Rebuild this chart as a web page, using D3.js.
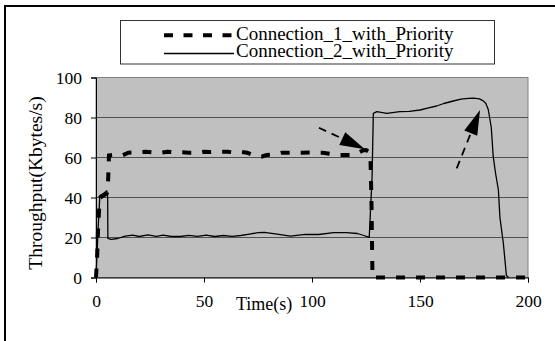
<!DOCTYPE html>
<html>
<head>
<meta charset="utf-8">
<script src="https://cdn.jsdelivr.net/npm/d3@7"></script>
<style>
  html, body { margin: 0; padding: 0; background: #fff; }
  svg { display: block; }
  text { font-family: "Liberation Serif", "Times New Roman", serif; fill: #000; }
</style>
</head>
<body>
<svg id="chart" width="555" height="341"></svg>
<script>
// Series names
const seriesNames = ["Connection_1_with_Priority", "Connection_2_with_Priority"];

// Connection 1 (dashed): time (s) and throughput (Kbytes/s)
const conn1Time = [0, 0.5, 1, 1.5, 2, 5, 5.5, 6, 8, 12, 15, 19, 23, 27, 30, 33, 36, 40, 43, 47, 50, 53, 57, 61, 64, 67, 70, 72, 74, 77, 79, 82, 86, 90, 95, 100, 105, 110, 113, 117, 120, 123.5, 125, 127, 127.5, 128, 135, 150, 170, 190, 200];
const conn1Thr  = [0, 10, 25, 35, 40, 42, 45, 61, 61.3, 61, 62.4, 62.6, 62.9, 62.4, 62.4, 62.9, 62.7, 62.6, 62.4, 62.4, 62.9, 62.7, 62.9, 62.9, 62.5, 62.9, 62.4, 61.5, 60.5, 60.5, 61.3, 61.5, 62.4, 62.4, 62.4, 62.5, 62.4, 61.6, 61.3, 61.3, 61.5, 63.5, 63.7, 62.5, 40, 0, 0, 0, 0, 0, 0];

// Connection 2 (solid): time (s) and throughput (Kbytes/s)
const conn2Time = [0, 1, 1.8, 3.4, 5, 5.4, 5.5, 7, 10, 13.5, 17, 20, 24, 28, 31, 35, 39, 43, 47, 51, 55, 59, 63, 67, 71, 75, 78, 83, 90, 97, 103, 110, 116, 121, 124, 126.5, 127.8, 128.4, 130, 134.6, 140.7, 145, 150, 154, 157.7, 161, 165.4, 169, 172.4, 175, 177.5, 179.3, 180.5, 181.6, 183, 183.9, 185, 186.3, 187, 188.6, 190, 191];
const conn2Thr  = [0, 25, 41, 42, 43.4, 40, 19.6, 19.1, 19.5, 20.7, 21.2, 20.5, 21.3, 20.6, 21.2, 20.5, 20.5, 21.1, 20.6, 21.2, 20.5, 21, 20.6, 21, 21.7, 22.4, 22.6, 21.8, 20.7, 21.6, 21.5, 22.4, 22.4, 22, 21, 20.1, 50, 82.1, 82.9, 82.1, 82.9, 83.1, 83.75, 84.8, 85.75, 87, 88.25, 89.2, 89.6, 89.7, 89.3, 88.3, 87, 84, 75, 60.4, 52, 43.75, 30, 17, 1, 0];

// Axis ticks
const xTicks = [0, 50, 100, 150, 200];
const yTicks = [0, 20, 40, 60, 80, 100];
const gridValues = [20, 40, 60, 80];

// Annotation arrows: tail and tip in (time, throughput)
const arrowTails = [[103.2, 74.9], [167, 54.6]];
const arrowTips  = [[124.5, 64.1], [177.8, 83.75]];

const svg = d3.select("#chart");
const plot = { left: 96, right: 528, top: 77.5, bottom: 277.5 };

const x = d3.scaleLinear().domain([0, 200]).range([plot.left, plot.right]);
const y = d3.scaleLinear().domain([0, 100]).range([plot.bottom, plot.top]);

// Page frame (top and left edges)
svg.append("path")
  .attr("d", "M5,341 L5,6 L555,6")
  .attr("fill", "none").attr("stroke", "#000").attr("stroke-width", 2);

// Plot background
svg.append("rect")
  .attr("x", plot.left).attr("y", plot.top)
  .attr("width", plot.right - plot.left).attr("height", plot.bottom - plot.top)
  .attr("fill", "#c0c0c0").attr("stroke", "#808080").attr("stroke-width", 1);

// Horizontal gridlines
svg.append("g").selectAll("line").data(gridValues).join("line")
  .attr("x1", plot.left).attr("x2", plot.right)
  .attr("y1", d => y(d)).attr("y2", d => y(d))
  .attr("stroke", "#505050").attr("stroke-width", 1);

// Axes
const xAxis = svg.append("g")
  .attr("transform", `translate(0,${plot.bottom})`)
  .call(d3.axisBottom(x).tickValues(xTicks).tickSizeOuter(0).tickSize(5).tickPadding(12));
const yAxis = svg.append("g")
  .attr("transform", `translate(${plot.left},0)`)
  .call(d3.axisLeft(y).tickValues(yTicks).tickSizeOuter(0).tickSize(5).tickPadding(9));

[xAxis, yAxis].forEach(g => {
  g.select(".domain").attr("stroke", "#000");
  g.selectAll(".tick line").attr("stroke", "#000");
  g.selectAll("text")
    .attr("font-family", "'Liberation Serif', 'Times New Roman', serif")
    .attr("font-size", 17.5).attr("fill", "#000");
});

// Series lines
const line = d3.line().x(d => x(d[0])).y(d => y(d[1]));
const conn1 = conn1Time.map((t, i) => [t, conn1Thr[i]]);
const conn2 = conn2Time.map((t, i) => [t, conn2Thr[i]]);

svg.append("path").datum(conn2)
  .attr("d", line)
  .attr("fill", "none").attr("stroke", "#000").attr("stroke-width", 1.3)
  .attr("stroke-linejoin", "round");

svg.append("path").datum(conn1)
  .attr("d", line)
  .attr("fill", "none").attr("stroke", "#000").attr("stroke-width", 4)
  .attr("stroke-dasharray", "9,11");

// Annotation arrows: dashed shaft with filled head
arrowTails.forEach((tail, i) => {
  const tip = arrowTips[i];
  const x0 = x(tail[0]), y0 = y(tail[1]);
  const x1 = x(tip[0]), y1 = y(tip[1]);
  const dx = x1 - x0, dy = y1 - y0;
  const len = Math.hypot(dx, dy);
  const ux = dx / len, uy = dy / len;
  const headLen = 25, headHalf = 7;
  const bx = x1 - ux * headLen, by = y1 - uy * headLen;
  svg.append("line")
    .attr("x1", x0).attr("y1", y0).attr("x2", bx).attr("y2", by)
    .attr("stroke", "#000").attr("stroke-width", 1.8).attr("stroke-dasharray", "8,6");
  svg.append("path")
    .attr("d", `M${x1},${y1} L${bx - uy * headHalf},${by + ux * headHalf} L${bx + uy * headHalf},${by - ux * headHalf} Z`)
    .attr("fill", "#000");
});

// Axis titles
svg.append("text")
  .attr("x", 236).attr("y", 310)
  .attr("font-size", 18)
  .text("Time(s)");

svg.append("text")
  .attr("transform", "translate(42,183) rotate(-90)")
  .attr("text-anchor", "middle")
  .attr("font-size", 19.5)
  .text("Throughput(Kbytes/s)");

// Legend
const legend = svg.append("g");
legend.append("rect")
  .attr("x", 120.5).attr("y", 20.5).attr("width", 374).attr("height", 43.5)
  .attr("fill", "#fff").attr("stroke", "#333").attr("stroke-width", 1);

const legendRows = [
  { name: seriesNames[0], width: 4, dash: "9,10.5", ly: 35.3, ty: 39.5 },
  { name: seriesNames[1], width: 1.3, dash: null, ly: 53.5, ty: 56.5 }
];
legendRows.forEach(r => {
  legend.append("line")
    .attr("x1", 164).attr("x2", 234).attr("y1", r.ly).attr("y2", r.ly)
    .attr("stroke", "#000").attr("stroke-width", r.width)
    .attr("stroke-dasharray", r.dash);
  legend.append("text")
    .attr("x", 236).attr("y", r.ty)
    .attr("font-size", 19)
    .text(r.name);
});
</script>
</body>
</html>
